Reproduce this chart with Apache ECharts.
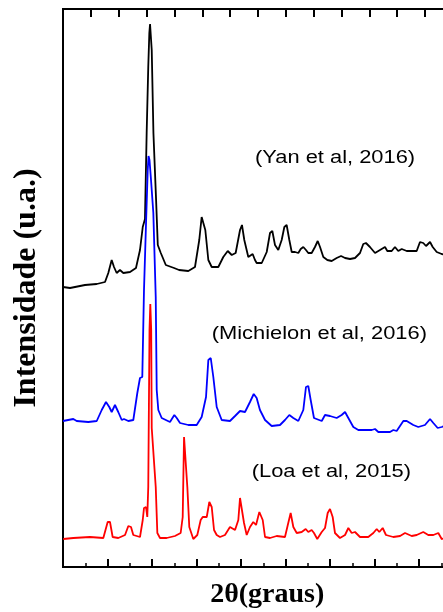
<!DOCTYPE html>
<html>
<head>
<meta charset="utf-8">
<script src="https://cdn.jsdelivr.net/npm/echarts@6/dist/echarts.min.js"></script>
<style>html,body{margin:0;padding:0;background:#fff;}#c{width:443px;height:612px;}</style>
</head>
<body>
<div id="c"></div>
<script>
// 2θ (degrees) and intensity (arbitrary units)
const yanX = [5.0,5.79,7.47,8.79,9.72,10.09,10.47,10.73,11.03,11.40,11.78,12.53,13.20,13.65,13.96,14.21,14.40,14.58,14.70,14.78,14.97,15.16,15.46,15.65,15.99,16.55,17.48,18.04,19.08,19.83,20.31,20.58,20.76,20.99,21.33,21.71,22.45,23.01,23.51,23.96,24.40,24.89,25.11,25.37,25.82,26.31,26.57,26.76,27.33,27.89,28.26,28.52,28.82,29.19,29.57,29.87,30.13,30.43,30.70,31.07,31.44,31.71,32.00,32.30,32.56,32.94,33.31,33.62,33.88,34.25,34.70,35.19,35.75,36.24,36.69,37.25,37.81,38.37,38.74,39.04,39.49,40.06,40.62,41.18,41.44,41.93,42.30,42.67,43.06,43.62,44.74,45.11,45.48,45.79,46.24,46.54,46.99,47.55,48.5,49.9];
const yanY = [280,279,282,283,285,294,307,300,294,297,294,295,299,317,340,348,434,500,534,543,517,434,367,322,314,302,299,297,296,300,327,350,352,337,307,300,300,310,316,312,314,337,342,327,310,313,307,304,304,315,334,336,322,317,327,340,342,327,315,315,314,318,320,317,314,314,320,326,320,310,307,306,309,311,309,308,309,314,323,324,320,314,317,320,316,316,320,316,318,316,316,325,324,321,325,320,315,313,311,310];
const michX = [5.0,6.16,6.54,7.84,8.79,9.35,9.83,10.20,10.47,10.84,11.21,11.60,11.85,12.34,12.90,13.35,13.65,13.91,14.10,14.33,14.52,14.61,14.72,14.89,15.15,15.42,15.53,15.71,16.09,17.02,17.51,17.78,18.15,19.08,20.02,20.58,21.07,21.33,21.60,21.89,22.27,22.83,23.76,24.33,24.89,25.45,26.01,26.43,26.76,27.13,27.70,28.45,29.38,29.94,30.43,30.88,31.44,32.00,32.30,32.56,32.83,33.20,34.07,34.44,35.00,35.75,36.31,36.69,37.06,37.62,38.18,39.69,40.06,40.43,41.74,42.12,42.49,43.24,43.62,44.36,44.92,45.67,46.24,46.61,47.10,47.55,48.51,49.94];
const michY = [146,148,146,145,146,157,165,160,155,162,155,147,148,146,147,174,189,190,277,344,397,411,407,387,354,270,177,157,149,145,152,149,144,142,142,150,170,207,209,190,160,147,146,151,156,155,165,173,169,157,147,141,142,147,152,149,146,157,180,181,167,149,146,152,151,149,152,155,149,140,137,137,138,135,135,137,136,146,146,142,140,142,148,144,139,140,143,141];
const loaX = [5.03,6.16,8.03,9.53,10.02,10.28,10.58,11.21,11.97,12.34,12.64,12.90,13.65,13.96,14.10,14.33,14.47,14.58,14.72,14.81,14.91,14.97,15.16,15.42,15.60,15.90,16.65,17.58,18.22,18.45,18.60,18.82,18.97,19.19,19.64,20.09,20.47,20.70,21.15,21.44,21.71,21.97,22.27,22.64,23.20,23.76,24.33,24.70,24.89,25.08,25.34,25.64,26.01,26.38,26.69,27.06,27.21,27.44,27.70,28.26,29.01,29.94,30.31,30.58,30.88,31.26,31.82,32.27,32.56,32.94,33.20,33.57,34.07,34.44,34.74,35.00,35.30,35.56,36.12,36.69,37.06,37.44,37.81,38.37,39.30,39.87,40.25,40.54,40.92,41.29,42.11,42.87,43.43,44.18,44.74,45.48,46.04,46.61,47.17,47.55,48.51,49.94];
const loaY = [28,29,30,29,45,45,30,29,32,41,40,32,30,47,59,60,50,80,237,263,237,139,137,80,34,29,29,31,34,50,130,130,80,40,28,32,47,50,50,65,60,37,32,30,32,40,37,47,69,67,44,32,40,45,42,55,56,47,30,29,31,30,44,54,40,34,35,38,35,37,34,28,35,39,54,58,50,34,29,32,39,34,35,30,30,34,38,35,39,32,30,31,34,31,32,35,32,32,34,28,30,29];
const labels = ['(Yan et al, 2016)', '(Michielon et al, 2016)', '(Loa et al, 2015)'];
const xName = '2θ(graus)';
const yName = 'Intensidade (u.a.)';

const zip = (xs, ys) => xs.map((x, i) => [x, ys[i]]);

const chart = echarts.init(document.getElementById('c'));
const lineSeries = (name, xs, ys, color) => ({
  name, type: 'line', xAxisIndex: 0, yAxisIndex: 0,
  data: zip(xs, ys), showSymbol: false, symbol: 'none', smooth: false,
  lineStyle: { color, width: 1.8 }, animation: false
});
const annFont = '17.5px "Liberation Sans", Arial, sans-serif';
const gridBox = { left: 63, top: 9, width: 400.5, height: 558, containLabel: false, outerBoundsMode: 'none' };
chart.setOption({
  animation: false,
  backgroundColor: '#fff',
  grid: [
    Object.assign({ show: true, borderColor: '#000', borderWidth: 2, backgroundColor: 'transparent', z: -1 }, gridBox),
    Object.assign({}, gridBox)
  ],
  xAxis: [
    {
      type: 'value', gridIndex: 0, position: 'bottom', min: 5, max: 50, interval: 5,
      name: xName, nameLocation: 'middle', nameGap: 14,
      nameTextStyle: { fontFamily: '"Liberation Serif", "Times New Roman", serif', fontWeight: 'bold', fontSize: 28, color: '#000', padding: [0, 0, 0, 8] },
      axisLine: { show: true, onZero: false, lineStyle: { color: '#000', width: 2 } },
      axisTick: { show: true, inside: true, length: 8, lineStyle: { color: '#000', width: 2 } },
      minorTick: { show: true, splitNumber: 2, length: 4, lineStyle: { color: '#000', width: 1.5 } },
      axisLabel: { show: false }, splitLine: { show: false }, minorSplitLine: { show: false }
    },
    {
      type: 'value', gridIndex: 1, position: 'top', min: 0, max: 14.38, interval: 1, z: 5,
      axisLine: { show: true, onZero: false, lineStyle: { color: '#000', width: 2 } },
      axisTick: { show: true, inside: true, length: 8, lineStyle: { color: '#000', width: 2 } },
      axisLabel: { show: false }, splitLine: { show: false }
    }
  ],
  yAxis: [
    {
      type: 'value', gridIndex: 0, min: 0, max: 558,
      name: yName, nameLocation: 'middle', nameGap: 20,
      nameTextStyle: { fontFamily: '"Liberation Serif", "Times New Roman", serif', fontWeight: 'bold', fontSize: 32, color: '#000' },
      axisLine: { show: true, onZero: false, lineStyle: { color: '#000', width: 2 } },
      axisTick: { show: false }, axisLabel: { show: false }, splitLine: { show: false }
    },
    {
      type: 'value', gridIndex: 1, min: 0, max: 1, show: false
    }
  ],
  series: [
    lineSeries('Yan', yanX, yanY, '#000000'),
    lineSeries('Michielon', michX, michY, '#0000ff'),
    lineSeries('Loa', loaX, loaY, '#ff0000')
  ],
  graphic: [
    { type: 'text', x: 255, y: 158.5, scaleX: 1.25, style: { text: labels[0], font: annFont, fill: '#000', textAlign: 'left', textVerticalAlign: 'middle' } },
    { type: 'text', x: 211.7, y: 334, scaleX: 1.25, style: { text: labels[1], font: annFont, fill: '#000', textAlign: 'left', textVerticalAlign: 'middle' } },
    { type: 'text', x: 251.7, y: 472.5, scaleX: 1.25, style: { text: labels[2], font: annFont, fill: '#000', textAlign: 'left', textVerticalAlign: 'middle' } }
  ]
});
</script>
</body>
</html>
